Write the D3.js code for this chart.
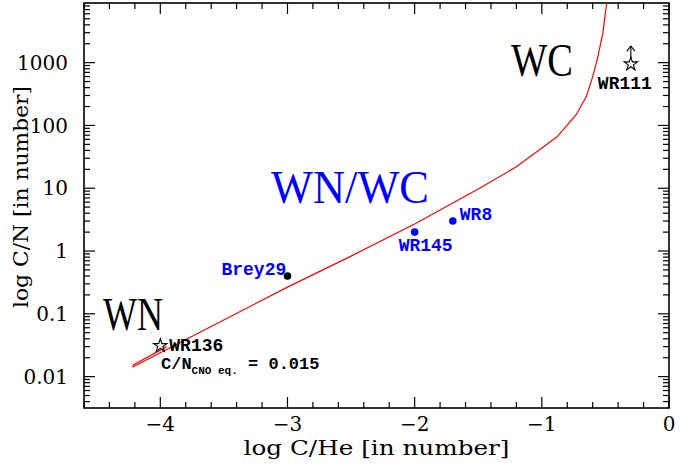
<!DOCTYPE html>
<html>
<head>
<meta charset="utf-8">
<script src="https://cdn.jsdelivr.net/npm/d3@7/dist/d3.min.js"></script>
<style>
  html, body { margin: 0; padding: 0; background: #fff; }
  svg { display: block; }
</style>
</head>
<body>
<script>
// Evolutionary track: log C/He versus C/N (number ratios)
const trackLogCHe = [-4.22, -3.6, -3.0, -2.5, -2.0, -1.5, -1.2, -0.88, -0.73, -0.65, -0.60, -0.565, -0.52, -0.49];
const trackCN     = [0.0141, 0.063, 0.266, 0.83, 2.7, 9.7, 21.9, 66, 148, 288, 600, 1100, 2950, 8900];
// short returning branch at the start of the track
const branchLogCHe = [-4.22, -3.95];
const branchCN     = [0.0150, 0.0300];

// Observed stars
const dotNames  = ["Brey29", "WR145", "WR8"];
const dotLogCHe = [-3.0, -2.0, -1.7];
const dotCN     = [0.40, 2.0, 3.0];
const dotColors = ["black", "blue", "blue"];

const starNames  = ["WR136", "WR111"];
const starLogCHe = [-4.0, -0.3];
const starCN     = [0.031, 950];
const starLowerLimit = [false, true];

// Axis ticks
const xTicks = [-4, -3, -2, -1, 0];
const yTicks = [0.01, 0.1, 1, 10, 100, 1000];
const yTickLabels = ["0.01", "0.1", "1", "10", "100", "1000"];

const cnoEquilibrium = 0.015;

const W = 695, H = 466;
const margin = { left: 84, right: 26, top: 3, bottom: 58 };
const iw = W - margin.left - margin.right;
const ih = H - margin.top - margin.bottom;

const svg = d3.select("body").append("svg").attr("width", W).attr("height", H);

const x = d3.scaleLinear().domain([-4.6, 0]).range([margin.left, margin.left + iw]);
const y = d3.scaleLog().domain([Math.pow(10, -2.5), Math.pow(10, 3.95)]).range([margin.top + ih, margin.top]);

const serif = "'DejaVu Serif', serif";
const mono = "'Liberation Mono', 'DejaVu Sans Mono', monospace";

svg.append("defs").append("clipPath").attr("id", "plotclip")
  .append("rect").attr("x", margin.left).attr("y", margin.top).attr("width", iw).attr("height", ih);

// Minor ticks: every 0.2 in log C/He, 2..9 per decade in C/N
const xMinor = d3.range(-23, 1).map(k => k * 0.2).filter(v => Math.abs(v - Math.round(v)) > 1e-6);
const yMinor = [];
for (let e = -3; e <= 3; e++) {
  for (let m = 2; m <= 9; m++) {
    const v = m * Math.pow(10, e);
    if (v >= y.domain()[0] && v <= y.domain()[1]) yMinor.push(v);
  }
}

const ticks = svg.append("g").attr("stroke", "black").attr("stroke-width", 1.2);
const majorLen = 11, minorLen = 6;
const yb = margin.top + ih, yt = margin.top, xl = margin.left, xr = margin.left + iw;

xTicks.forEach(v => {
  ticks.append("line").attr("x1", x(v)).attr("x2", x(v)).attr("y1", yb).attr("y2", yb - majorLen);
  ticks.append("line").attr("x1", x(v)).attr("x2", x(v)).attr("y1", yt).attr("y2", yt + majorLen);
});
xMinor.forEach(v => {
  ticks.append("line").attr("x1", x(v)).attr("x2", x(v)).attr("y1", yb).attr("y2", yb - minorLen);
  ticks.append("line").attr("x1", x(v)).attr("x2", x(v)).attr("y1", yt).attr("y2", yt + minorLen);
});
yTicks.forEach(v => {
  ticks.append("line").attr("x1", xl).attr("x2", xl + majorLen).attr("y1", y(v)).attr("y2", y(v));
  ticks.append("line").attr("x1", xr).attr("x2", xr - majorLen).attr("y1", y(v)).attr("y2", y(v));
});
yMinor.forEach(v => {
  ticks.append("line").attr("x1", xl).attr("x2", xl + minorLen).attr("y1", y(v)).attr("y2", y(v));
  ticks.append("line").attr("x1", xr).attr("x2", xr - minorLen).attr("y1", y(v)).attr("y2", y(v));
});

// Frame
svg.append("rect").attr("x", xl).attr("y", yt).attr("width", iw).attr("height", ih)
  .attr("fill", "none").attr("stroke", "black").attr("stroke-width", 1.6);

// Tick labels
svg.append("g").selectAll("text").data(xTicks).join("text")
  .attr("x", d => x(d)).attr("y", yb + 23)
  .attr("text-anchor", "middle").attr("font-family", serif).attr("font-size", 20)
  .text(d => d === 0 ? "0" : "\u2212" + Math.abs(d));

svg.append("g").selectAll("text").data(yTicks).join("text")
  .attr("x", xl - 16).attr("y", d => y(d)).attr("dy", "0.36em")
  .attr("text-anchor", "end").attr("font-family", serif).attr("font-size", 20)
  .text((d, i) => yTickLabels[i]);

// Axis titles
svg.append("text").attr("x", (xl + xr) / 2).attr("y", yb + 47)
  .attr("text-anchor", "middle").attr("font-family", serif).attr("font-size", 20)
  .attr("textLength", 266).attr("lengthAdjust", "spacingAndGlyphs")
  .text("log C/He [in number]");
svg.append("text")
  .attr("transform", `translate(${28},${197}) rotate(-90)`)
  .attr("text-anchor", "middle").attr("font-family", serif).attr("font-size", 20)
  .attr("textLength", 222).attr("lengthAdjust", "spacingAndGlyphs")
  .text("log C/N [in number]");

// Track
const plot = svg.append("g").attr("clip-path", "url(#plotclip)");
const line = d3.line().x(d => x(d[0])).y(d => y(d[1]));
plot.append("path").datum(d3.zip(trackLogCHe, trackCN)).attr("d", line)
  .attr("fill", "none").attr("stroke", "red").attr("stroke-width", 1.2);
plot.append("path").datum(d3.zip(branchLogCHe, branchCN)).attr("d", line)
  .attr("fill", "none").attr("stroke", "red").attr("stroke-width", 1.2);

// Filled dots
dotNames.forEach((n, i) => {
  plot.append("circle").attr("cx", x(dotLogCHe[i])).attr("cy", y(dotCN[i])).attr("r", 3.8)
    .attr("fill", dotColors[i]);
});

// Open stars
const starPath = d3.symbol().type(d3.symbolStar).size(55);
starNames.forEach((n, i) => {
  const cx = x(starLogCHe[i]), cy = y(starCN[i]);
  plot.append("path").attr("d", starPath()).attr("transform", `translate(${cx},${cy})`)
    .attr("fill", "none").attr("stroke", "black").attr("stroke-width", 1.1);
  if (starLowerLimit[i]) {
    const top = cy - 18;
    plot.append("line").attr("x1", cx).attr("x2", cx).attr("y1", cy - 6).attr("y2", top)
      .attr("stroke", "black").attr("stroke-width", 1.1);
    plot.append("path").attr("d", `M${cx - 4},${top + 5}L${cx},${top}L${cx + 4},${top + 5}`)
      .attr("fill", "none").attr("stroke", "black").attr("stroke-width", 1.1);
  }
});

// Point labels
const lab = (t, px, py, color) => svg.append("text").attr("x", px).attr("y", py)
  .attr("font-family", mono).attr("font-size", 18).attr("font-weight", "bold")
  .attr("fill", color).text(t);
lab("Brey29", x(dotLogCHe[0]) - 66, y(dotCN[0]) - 1, "blue");
lab("WR145", x(dotLogCHe[1]) - 16, y(dotCN[1]) + 19, "blue");
lab("WR8", x(dotLogCHe[2]) + 7, y(dotCN[2]) - 1, "blue");
lab("WR136", x(starLogCHe[0]) + 9, y(starCN[0]) + 5, "black");
lab("WR111", x(starLogCHe[1]) - 33, y(starCN[1]) + 25, "black");

// CNO equilibrium note
const note = svg.append("text").attr("x", 161).attr("y", 369)
  .attr("font-family", mono).attr("font-size", 17).attr("font-weight", "bold").attr("fill", "black");
note.append("tspan").text("C/N");
note.append("tspan").attr("font-size", 11).attr("dy", 5).text("CNO eq.");
note.append("tspan").attr("dy", -5).text(" = " + cnoEquilibrium);

// Region labels
const big = (t, px, py, len, color) => svg.append("text").attr("x", px).attr("y", py)
  .attr("font-family", "'Liberation Serif', serif").attr("font-size", 46)
  .attr("textLength", len).attr("lengthAdjust", "spacingAndGlyphs")
  .attr("fill", color).text(t);
big("WC", 511, 76, 62, "black");
big("WN", 103, 330, 60, "black");
big("WN/WC", 271, 203, 158, "blue");
</script>
</body>
</html>
